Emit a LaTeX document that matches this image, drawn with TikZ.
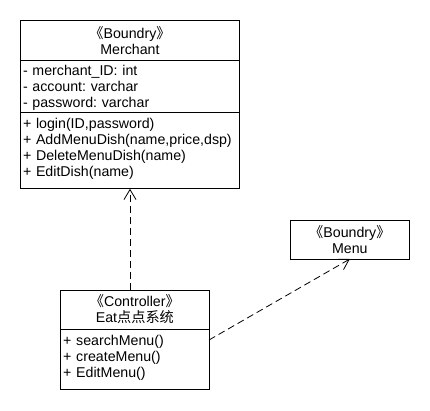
\documentclass[tikz,border=0pt]{standalone}
\usepackage{fontspec}
\setmainfont{Liberation Sans}
\newfontfamily\cjk{Noto Sans CJK SC}
\usetikzlibrary{arrows.meta,positioning}
\frenchspacing
\newcommand{\stereo}[1]{{\cjk 《}#1{\cjk 》}}
\tikzset{
	classhead/.style={draw, line width=1pt, text width=#1, align=center,
			inner xsep=2.5pt, inner ysep=0pt, outer sep=0pt, anchor=north west},
	classpart/.style={draw, line width=1pt, text width=#1, align=left,
			inner xsep=2.5pt, inner ysep=0pt, outer sep=0pt, anchor=north west},
	depend/.style={line width=0.8pt, dash pattern=on 7pt off 4pt,
			-{Straight Barb[length=10pt,width=12pt]}}
}

\begin{document}
\begin{tikzpicture}[x=1pt, y=-1pt, font=\fontsize{14.2}{16}\selectfont]
		\useasboundingbox (0,0) rectangle (430,410);
		% Merchant
		\node[classhead=214pt, minimum height=40pt] (mhead) at (20.5,20.5) {\stereo{Boundry}\\Merchant};
		\node[classpart=214pt, text height=15.3pt, text depth=36.7pt] (mattr) at (mhead.south west)
			{- merchant\_ID: int\\- account: varchar\\- password: varchar};
		\node[classpart=214pt, text height=16.3pt, text depth=60pt] (mopers) at (mattr.south west)
			{+ login(ID,password)\\+ AddMenuDish(name,price,dsp)\\+ DeleteMenuDish(name)\\+ EditDish(name)};
		% Menu
		\node[classhead=113.3pt, minimum height=38.3pt] (menu) at (290.7,220.7) {\stereo{Boundry}\\Menu};
		% Controller
		\node[classhead=143.3pt, minimum height=39pt] (chead) at (60.7,290) {\stereo{Controller}\\Eat{\cjk 点点系统}};
		\node[classpart=143.3pt, text height=16pt, text depth=44pt] (copers) at (chead.south west)
			{+ searchMenu()\\+ createMenu()\\+ EditMenu()};
		\draw[depend] (chead.north -| mopers.south) -- (mopers.south);
		\draw[depend] ([yshift=-11pt]copers.north east) -- (menu.south);
	\end{tikzpicture}
\end{document}
